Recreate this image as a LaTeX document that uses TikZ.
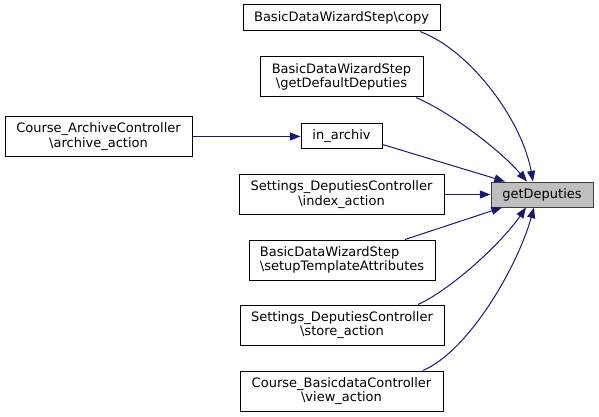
\documentclass[tikz,border=0pt]{standalone}
\usepackage{fontspec}
\setmainfont{DejaVu Sans}
\usepackage{xcolor}
\usetikzlibrary{arrows.meta, positioning, calc}

\definecolor{edgeblue}{HTML}{191970}

\begin{document}
\begin{tikzpicture}[%
  x=0.75pt, y=-0.75pt,
  every node/.style={align=center, font=\fontsize{9.75}{10.7}\selectfont},
  fn/.style={draw=black, line width=0.75pt, fill=white, inner sep=0pt},
  target/.style={fn, draw=black!75, fill=black!25},
  arr/.style={-{Triangle[length=8pt, width=6pt, fill=edgeblue]}, draw=edgeblue, line width=0.75pt}
]
\useasboundingbox (0,0) rectangle (599,417);

% Callers
\node[fn, minimum width=197*0.75pt, minimum height=26*0.75pt] (copy) at (341.5,18) {BasicDataWizardStep\textbackslash copy};
\node[fn, minimum width=163*0.75pt, minimum height=40*0.75pt] (defdep) at (341.5,77) {BasicDataWizardStep\\\textbackslash getDefaultDeputies};
\node[fn, minimum width=187*0.75pt, minimum height=40*0.75pt] (archive) at (98.5,136.5) {Course\_ArchiveController\\\textbackslash archive\_action};
\node[fn, minimum width=81*0.75pt, minimum height=25*0.75pt] (inarchiv) at (341.5,136.5) {in\_archiv};
\node[fn, minimum width=205*0.75pt, minimum height=40*0.75pt] (index) at (341.5,194.5) {Settings\_DeputiesController\\\textbackslash index\_action};
\node[fn, minimum width=186*0.75pt, minimum height=40*0.75pt, align=left] (setup) at (342,260) {BasicDataWizardStep\\\textbackslash setupTemplateAttributes};
\node[fn, minimum width=204*0.75pt, minimum height=40*0.75pt] (store) at (342,325) {Settings\_DeputiesController\\\textbackslash store\_action};
\node[fn, minimum width=203*0.75pt, minimum height=40*0.75pt] (view) at (341.5,391) {Course\_BasicdataController\\\textbackslash view\_action};

% Callee
\node[target, minimum width=102*0.75pt, minimum height=25*0.75pt] (getdep) at (542,194.5) {getDeputies};

% Calls
\draw[arr] (archive.east) -- (inarchiv.west);
\draw[arr] ($(copy.south)+(78.5,0)$) .. controls (470,50) and (522,120) .. ($(getdep.north)+(-9,0)$);
\draw[arr] ($(defdep.south)+(74.5,0)$) .. controls (450,112) and (500,150) .. ($(getdep.north)+(-15,0)$);
\draw[arr] ($(inarchiv.east)+(0,8)$) -- ($(getdep.north)+(-37,0)$);
\draw[arr] (index.east) -- (getdep.west);
\draw[arr] ($(setup.north)+(63,0)$) -- ($(getdep.south)+(-40,0)$);
\draw[arr] ($(store.north)+(76,0)$) .. controls (450,290) and (500,245) .. ($(getdep.south)+(-16,0)$);
\draw[arr] ($(view.north)+(81.5,0)$) .. controls (470,350) and (518,265) .. ($(getdep.south)+(-8,0)$);
\end{tikzpicture}
\end{document}
